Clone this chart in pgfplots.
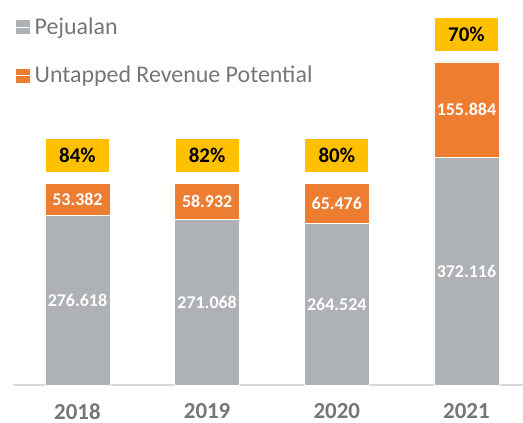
\documentclass[border=0pt]{standalone}
\usepackage{fontspec}
\setmainfont{Carlito}
\usepackage{pgfplots}
\pgfplotsset{compat=1.18}

\definecolor{pgray}{RGB}{175,178,180}
\definecolor{porange}{RGB}{237,125,49}
\definecolor{pyellow}{RGB}{255,192,0}
\definecolor{ptext}{RGB}{118,118,118}
\definecolor{paxis}{RGB}{217,217,217}

\begin{document}
\begin{tikzpicture}
\useasboundingbox (0,0) rectangle (523bp,423bp);
\begin{axis}[
  at={(13bp,38bp)}, anchor=south west,
  scale only axis, width=510bp, height=385bp,
  ybar stacked, bar width=65bp,
  xmin=-0.497, xmax=3.436, ymin=0, ymax=629,
  axis x line*=bottom, axis y line=none,
  x axis line style={paxis, line width=1.2bp},
  xtick={0,1,2,3}, xticklabels={2018,2019,2020,2021},
  major tick length=0pt, ytick=\empty,
  xticklabel style={font=\fontsize{23}{23}\selectfont\bfseries, text=ptext,
    inner sep=0pt, anchor=north, yshift=-18.5bp},
  clip=false,
  point meta=explicit symbolic,
  legend style={at={(0,1)}, anchor=north west, draw=none, fill=none,
    font=\fontsize{24}{24}\selectfont, text=ptext, row sep=26bp,
    xshift=0bp, yshift=-14bp},
  legend cell align=left,
]
% stacked labels sit in the middle of their segment
\addplot[fill=pgray, draw=white, line width=0.5bp,
  legend image code/.code={\fill[pgray] (0bp,-6.5bp) rectangle (13bp,6.5bp);
    \path (0bp,0bp) -- (16bp,0bp);},
  nodes near coords,
  every node near coord/.style={anchor=center, text=white,
    font=\fontsize{18}{18}\selectfont\bfseries}]
  coordinates {(0,276.618)[276.618] (1,271.068)[271.068] (2,264.524)[264.524] (3,372.116)[372.116]};
\addplot[fill=porange, draw=white, line width=0.5bp,
  legend image code/.code={\fill[porange] (0bp,-6.5bp) rectangle (13bp,6.5bp);
    \path (0bp,0bp) -- (16bp,0bp);},
  nodes near coords,
  every node near coord/.style={anchor=center, text=white,
    font=\fontsize{18}{18}\selectfont\bfseries}]
  coordinates {(0,53.382)[53.382] (1,58.932)[58.932] (2,65.476)[65.476] (3,155.884)[155.884]};
\addplot[draw=none, fill=none,
  nodes near coords,
  every node near coord/.style={anchor=south, yshift=11bp, fill=pyellow,
    minimum width=63bp, minimum height=33bp, inner sep=0pt, text=black,
    font=\fontsize{21}{21}\selectfont\bfseries}]
  coordinates {(0,0.01)[84\%] (1,0.01)[82\%] (2,0.01)[80\%] (3,0.01)[70\%]};
\legend{Pejualan, Untapped Revenue Potential}
\end{axis}
\end{tikzpicture}
\end{document}
